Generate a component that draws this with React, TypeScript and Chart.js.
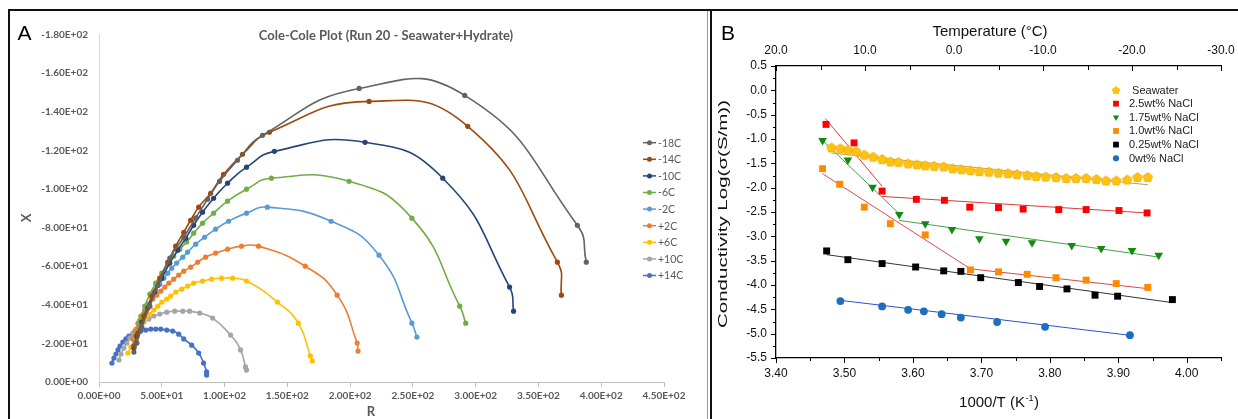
import React, { useEffect, useRef } from 'react';
import { Chart, registerables } from 'chart.js';

Chart.register(...registerables);

// ================= Panel A : Cole-Cole plot =================
const A_TITLE = 'Cole-Cole Plot (Run 20 - Seawater+Hydrate)';
const A_X_TITLE = 'R';
const A_Y_TITLE = 'X';
const COLE_SERIES = ['-18C', '-14C', '-10C', '-6C', '-2C', '+2C', '+6C', '+10C', '+14C'];
const COLE_COLORS = ['#636363', '#9E480E', '#264478', '#70AD47', '#5B9BD5', '#ED7D31', '#FFC000', '#A5A5A5', '#4472C4'];

const R_M18 = [27.8, 30.2, 34.1, 40.5, 47.0, 56.4, 67.5, 77.0, 86.5, 96.0, 110.3, 130.2, 207.2, 291.3, 381.0, 388.1];
const X_M18 = [-15.5, -20.2, -28.5, -39.3, -50.0, -64.2, -75.0, -85.0, -94.7, -104.0, -114.9, -127.8, -152.1, -148.5, -81.2, -62.1];

const R_M14 = [27.8, 31.0, 35.7, 42.1, 48.4, 54.8, 61.1, 67.5, 73.0, 79.4, 88.9, 99.2, 114.3, 135.7, 215.1, 293.7, 365.1, 368.3];
const X_M14 = [-18.6, -25.4, -34.2, -44.5, -53.8, -62.1, -70.4, -77.6, -83.8, -90.6, -97.8, -107.6, -118.0, -129.4, -145.4, -132.5, -62.1, -45.0];

const R_M10 = [27.8, 30.2, 34.1, 38.9, 44.4, 50.0, 56.4, 62.7, 69.1, 75.4, 82.5, 91.3, 102.4, 117.5, 139.7, 211.9, 273.8, 327.0, 330.2];
const X_M10 = [-17.6, -23.8, -31.1, -38.3, -46.6, -53.8, -61.6, -68.3, -74.5, -81.2, -88.0, -95.2, -103.0, -111.3, -119.5, -124.2, -105.6, -49.2, -36.7];

const R_M6 = [27.8, 29.4, 32.5, 36.5, 40.5, 45.2, 50.0, 54.8, 59.5, 64.3, 69.8, 75.4, 82.5, 91.3, 102.4, 117.5, 137.3, 199.2, 249.2, 287.3, 292.1];
const X_M6 = [-18.6, -24.3, -32.1, -39.3, -45.5, -51.2, -56.4, -61.1, -65.2, -68.8, -72.5, -77.1, -82.3, -87.5, -93.7, -99.9, -105.6, -104.0, -84.9, -39.3, -30.5];

const R_M2 = [28.6, 30.2, 32.5, 35.7, 38.9, 42.1, 45.2, 48.4, 51.6, 54.8, 57.9, 61.9, 66.7, 70.6, 77.0, 84.1, 92.9, 103.2, 117.5, 134.1, 184.9, 223.0, 249.2, 253.2];
const X_M2 = [-20.2, -24.8, -30.0, -35.2, -39.8, -44.0, -47.6, -50.7, -53.8, -56.4, -59.0, -61.6, -64.7, -67.3, -71.4, -75.0, -79.2, -83.3, -87.5, -90.6, -83.3, -65.7, -30.5, -23.3];

const R_P2 = [27.0, 28.6, 31.0, 33.3, 36.5, 39.7, 42.9, 46.0, 49.2, 52.4, 55.6, 59.5, 63.5, 67.5, 73.0, 78.6, 84.9, 92.9, 102.4, 113.5, 127.0, 164.3, 189.7, 205.6, 206.3];
const X_P2 = [-22.3, -26.4, -30.5, -34.2, -37.3, -40.4, -43.0, -45.0, -47.1, -49.2, -51.2, -53.3, -55.4, -57.4, -59.5, -62.1, -64.7, -66.8, -68.8, -70.4, -70.4, -60.0, -45.0, -20.2, -16.0];

const R_P6 = [23.0, 25.4, 27.8, 30.2, 32.5, 34.9, 37.3, 40.5, 43.7, 46.8, 50.0, 54.0, 57.1, 61.1, 65.9, 70.6, 75.4, 82.5, 89.7, 97.6, 106.4, 117.5, 142.1, 158.7, 168.3, 169.9];
const X_P6 = [-15.0, -18.1, -21.7, -25.4, -28.5, -31.1, -33.1, -35.2, -37.3, -39.3, -41.4, -43.0, -44.5, -46.6, -48.1, -49.7, -51.2, -52.3, -53.3, -53.8, -53.8, -52.3, -41.4, -30.5, -13.5, -10.9];

const R_P10 = [15.9, 17.5, 19.8, 22.2, 24.6, 27.0, 29.4, 32.5, 35.7, 39.7, 43.7, 48.4, 54.0, 60.3, 66.7, 72.2, 80.2, 90.5, 104.8, 112.7, 116.7, 117.5];
const X_P10 = [-11.4, -14.5, -17.6, -20.2, -22.8, -25.4, -27.4, -29.5, -31.1, -32.6, -34.2, -35.2, -36.2, -36.7, -36.7, -36.7, -35.7, -33.1, -24.3, -16.6, -7.8, -6.2];

const R_P14 = [10.3, 11.9, 13.5, 15.1, 16.7, 19.0, 21.4, 23.8, 27.0, 30.2, 33.3, 37.3, 41.3, 45.2, 49.2, 54.0, 58.7, 63.5, 67.5, 73.8, 79.4, 83.3, 85.7, 85.7];
const X_P14 = [-9.8, -12.4, -14.5, -16.6, -18.6, -20.7, -22.3, -23.8, -24.8, -25.9, -26.4, -26.9, -27.4, -27.4, -27.4, -26.9, -26.4, -24.8, -22.3, -19.1, -15.0, -9.8, -5.2, -3.6];

const COLE_R = [R_M18, R_M14, R_M10, R_M6, R_M2, R_P2, R_P6, R_P10, R_P14];
const COLE_X = [X_M18, X_M14, X_M10, X_M6, X_M2, X_P2, X_P6, X_P10, X_P14];

const A_R_MIN = 0, A_R_MAX = 450, A_R_STEP = 50;
const A_X_MIN = -180, A_X_MAX = 0, A_X_STEP = 20;

// ================= Panel B : Arrhenius plot =================
const B_X_TITLE_MAIN = '1000/T (K';
const B_X_TITLE_SUP = '-1';
const B_TOP_TITLE = 'Temperature (°C)';
const B_Y_TITLE = 'Conductivity Log(σ(S/m))';
const B_SERIES = ['Seawater', '2.5wt% NaCl', '1.75wt% NaCl', '1.0wt% NaCl', '0.25wt% NaCl', '0wt% NaCl'];
const B_COLORS = ['#FFC20E', '#FF0000', '#118A11', '#FF8A00', '#000000', '#1E6EBE'];
const B_STYLES = ['pentagon', 'rect', 'triangleDown', 'rect', 'rect', 'circle'];

const SW_X = [3.481, 3.494, 3.505, 3.517, 3.529, 3.542, 3.555, 3.567, 3.579, 3.593, 3.606, 3.618, 3.631, 3.645, 3.658, 3.671, 3.684, 3.697, 3.711, 3.725, 3.739, 3.752, 3.767, 3.780, 3.794, 3.809, 3.824, 3.838, 3.853, 3.868, 3.882, 3.897, 3.913, 3.928, 3.943];
const SW_Y = [-1.17, -1.19, -1.22, -1.25, -1.32, -1.36, -1.41, -1.46, -1.47, -1.50, -1.52, -1.54, -1.55, -1.56, -1.60, -1.62, -1.64, -1.66, -1.67, -1.69, -1.70, -1.72, -1.74, -1.76, -1.77, -1.78, -1.80, -1.80, -1.80, -1.82, -1.85, -1.85, -1.83, -1.78, -1.78];

const N25_X = [3.473, 3.514, 3.555, 3.605, 3.646, 3.683, 3.725, 3.761, 3.813, 3.853, 3.901, 3.942];
const N25_Y = [-0.70, -1.08, -2.07, -2.24, -2.26, -2.40, -2.41, -2.44, -2.45, -2.45, -2.47, -2.52];

const N175_X = [3.468, 3.505, 3.541, 3.580, 3.618, 3.657, 3.697, 3.736, 3.774, 3.832, 3.875, 3.920, 3.959];
const N175_Y = [-1.03, -1.43, -1.99, -2.55, -2.74, -2.86, -3.05, -3.10, -3.13, -3.19, -3.25, -3.29, -3.39];

const N10_X = [3.468, 3.493, 3.529, 3.567, 3.618, 3.684, 3.725, 3.767, 3.809, 3.853, 3.897, 3.943];
const N10_Y = [-1.61, -1.93, -2.40, -2.74, -2.97, -3.69, -3.73, -3.78, -3.85, -3.90, -3.97, -4.05];

const N025_X = [3.474, 3.505, 3.555, 3.604, 3.645, 3.670, 3.699, 3.754, 3.785, 3.825, 3.866, 3.899, 3.979];
const N025_Y = [-3.30, -3.48, -3.56, -3.63, -3.71, -3.72, -3.85, -3.95, -4.03, -4.08, -4.21, -4.23, -4.30];

const N0_X = [3.494, 3.555, 3.593, 3.616, 3.642, 3.670, 3.723, 3.793, 3.917];
const N0_Y = [-4.33, -4.44, -4.51, -4.54, -4.60, -4.67, -4.76, -4.86, -5.03];

const B_X = [SW_X, N25_X, N175_X, N10_X, N025_X, N0_X];
const B_Y = [SW_Y, N25_Y, N175_Y, N10_Y, N025_Y, N0_Y];

// fitted line segments (end points)
const FIT_X = [
  [3.481, 3.943],
  [3.472, 3.555], [3.555, 3.942],
  [3.468, 3.580], [3.580, 3.959],
  [3.468, 3.684], [3.684, 3.943],
  [3.474, 3.979],
  [3.494, 3.917],
];
const FIT_Y = [
  [-1.29, -1.94],
  [-0.58, -1.97], [-2.18, -2.52],
  [-1.03, -2.535], [-2.673, -3.426],
  [-1.713, -3.668], [-3.668, -4.075],
  [-3.377, -4.362],
  [-4.315, -5.034],
];
const FIT_COLORS = ['#BBA24C', '#D83A3A', '#D83A3A', '#49A049', '#49A049', '#E04848', '#E04848', '#333333', '#3050D0'];

const B_X_MIN = 3.4, B_X_MAX = 4.05, B_X_STEP = 0.05;
const B_T_MIN = -30, B_T_MAX = 20, B_T_STEP = 5;
const B_Y_MIN = -5.5, B_Y_MAX = 0.5, B_Y_STEP = 0.25;

// ---------------- helpers ----------------
const sci = (v: number) => {
  if (v === 0) return '0.00E+00';
  const e = Math.floor(Math.log10(Math.abs(v)) + 1e-9);
  const m = v / Math.pow(10, e);
  return `${m.toFixed(2)}E${e < 0 ? '-' : '+'}${String(Math.abs(e)).padStart(2, '0')}`;
};

function makePentagon(r: number, fill: string, stroke: string) {
  const size = Math.ceil(r * 2 + 2);
  const c = document.createElement('canvas');
  c.width = size;
  c.height = size;
  const ctx = c.getContext('2d')!;
  ctx.beginPath();
  for (let i = 0; i < 5; i++) {
    const a = -Math.PI / 2 + (i * 2 * Math.PI) / 5;
    const px = size / 2 + r * Math.cos(a);
    const py = size / 2 + 0.6 + r * Math.sin(a);
    if (i === 0) ctx.moveTo(px, py);
    else ctx.lineTo(px, py);
  }
  ctx.closePath();
  ctx.fillStyle = fill;
  ctx.fill();
  ctx.strokeStyle = stroke;
  ctx.lineWidth = 0.7;
  ctx.stroke();
  return c;
}

function drawMarker(ctx: CanvasRenderingContext2D, style: string, x: number, y: number, s: number, color: string) {
  ctx.fillStyle = color;
  ctx.beginPath();
  if (style === 'rect') {
    ctx.rect(x - s / 2, y - s / 2, s, s);
  } else if (style === 'circle') {
    ctx.arc(x, y, s / 2, 0, Math.PI * 2);
  } else if (style === 'triangleDown') {
    const r = s * 0.62;
    ctx.moveTo(x - r * 0.866, y - r * 0.5);
    ctx.lineTo(x + r * 0.866, y - r * 0.5);
    ctx.lineTo(x, y + r);
  } else {
    const r = s * 0.55;
    for (let i = 0; i < 5; i++) {
      const a = -Math.PI / 2 + (i * 2 * Math.PI) / 5;
      const px = x + r * Math.cos(a);
      const py = y + 0.5 + r * Math.sin(a);
      if (i === 0) ctx.moveTo(px, py);
      else ctx.lineTo(px, py);
    }
  }
  ctx.closePath();
  ctx.fill();
}

const A_FONT = 'Lato, "Open Sans", sans-serif';
const B_FONT = '"Liberation Sans", Arial, sans-serif';

export default function App() {
  const aRef = useRef<HTMLCanvasElement | null>(null);
  const bRef = useRef<HTMLCanvasElement | null>(null);

  useEffect(() => {
    if (!aRef.current || !bRef.current) return;

    // ---------- Chart A ----------
    const aTextPlugin = {
      id: 'aText',
      afterDraw(chart: any) {
        const ctx: CanvasRenderingContext2D = chart.ctx;
        ctx.save();
        ctx.fillStyle = '#595959';
        ctx.textAlign = 'center';
        ctx.textBaseline = 'middle';
        ctx.font = `bold 13px ${A_FONT}`;
        ctx.fillText(A_TITLE, 376, 25);
        ctx.font = `bold 13px ${A_FONT}`;
        ctx.fillText(A_X_TITLE, 361, 401);
        ctx.save();
        ctx.translate(16.5, 207);
        ctx.rotate(-Math.PI / 2);
        ctx.fillText(A_Y_TITLE, 0, 0);
        ctx.restore();
        ctx.font = `10.5px ${A_FONT}`;
        ctx.textAlign = 'left';
        COLE_SERIES.forEach((name, i) => {
          const y = 131.7 + i * 16.6;
          ctx.strokeStyle = COLE_COLORS[i];
          ctx.lineWidth = 1.5;
          ctx.beginPath();
          ctx.moveTo(633, y);
          ctx.lineTo(646, y);
          ctx.stroke();
          ctx.fillStyle = COLE_COLORS[i];
          ctx.beginPath();
          ctx.arc(639.5, y, 2.5, 0, Math.PI * 2);
          ctx.fill();
          ctx.fillStyle = '#595959';
          ctx.fillText(name, 648, y + 0.5);
        });
        ctx.restore();
      },
    };

    const aTickFont = { family: A_FONT, size: 10, weight: 'bold' as const };
    const aChart = new Chart(aRef.current, {
      type: 'scatter',
      data: {
        datasets: COLE_SERIES.map((name, i) => ({
          label: name,
          data: COLE_R[i].map((r, j) => ({ x: r, y: COLE_X[i][j] })),
          showLine: true,
          borderColor: COLE_COLORS[i],
          backgroundColor: COLE_COLORS[i],
          pointBackgroundColor: COLE_COLORS[i],
          pointBorderColor: COLE_COLORS[i],
          pointBorderWidth: 0,
          pointRadius: 2.6,
          borderWidth: 1.6,
          tension: 0.5,
        })),
      },
      options: {
        responsive: false,
        animation: false,
        devicePixelRatio: 1,
        layout: { padding: { left: 0, right: 43, top: 23.6, bottom: 0 } },
        plugins: { legend: { display: false }, tooltip: { enabled: false }, title: { display: false } },
        scales: {
          x: {
            type: 'linear',
            min: A_R_MIN,
            max: A_R_MAX,
            ticks: {
              stepSize: A_R_STEP,
              callback: (v: any) => sci(Number(v)),
              font: aTickFont,
              color: '#595959',
              padding: 3,
              maxRotation: 0,
              autoSkip: false,
            },
            grid: { display: true, drawOnChartArea: false, drawTicks: true, tickLength: 5, color: '#BFBFBF' },
            border: { display: true, color: '#BFBFBF', width: 1 },
            afterFit: (s: any) => {
              s.height = 37;
              s.paddingLeft = 0;
              s.paddingRight = 0;
            },
          },
          y: {
            type: 'linear',
            min: A_X_MIN,
            max: A_X_MAX,
            reverse: true,
            ticks: {
              stepSize: A_X_STEP,
              callback: (v: any) => sci(Number(v)),
              font: aTickFont,
              color: '#595959',
              padding: 11,
            },
            grid: { display: false, drawTicks: false },
            border: { display: true, color: '#D9D9D9', width: 1 },
            afterFit: (s: any) => {
              s.width = 89;
              s.paddingTop = 0;
              s.paddingBottom = 0;
            },
          },
        },
      } as any,
      plugins: [aTextPlugin],
    });

    // ---------- Chart B ----------
    const pent = makePentagon(5, B_COLORS[0], '#E8A800');
    const pointStyleOf = (st: string): any =>
      st === 'pentagon' ? pent : st === 'triangleDown' ? 'triangle' : st;
    const radiusOf = (st: string) => (st === 'rect' ? 4.9 : st === 'circle' ? 3.9 : st === 'triangleDown' ? 5 : 5);

    const markerSets = B_SERIES.map((name, i) => ({
      label: name,
      data: B_X[i].map((x, j) => ({ x, y: B_Y[i][j] })),
      showLine: false,
      pointStyle: pointStyleOf(B_STYLES[i]),
      rotation: B_STYLES[i] === 'triangleDown' ? 180 : 0,
      pointRadius: radiusOf(B_STYLES[i]),
      pointBackgroundColor: B_COLORS[i],
      pointBorderColor: B_COLORS[i],
      pointBorderWidth: 0,
      backgroundColor: B_COLORS[i],
      borderColor: B_COLORS[i],
    }));
    const fitSets = FIT_X.map((xs, k) => ({
      label: 'fit' + k,
      data: xs.map((x, j) => ({ x, y: FIT_Y[k][j] })),
      showLine: true,
      pointRadius: 0,
      borderWidth: 1,
      borderColor: FIT_COLORS[k],
      backgroundColor: FIT_COLORS[k],
      tension: 0,
    }));

    const bPlugin = {
      id: 'bDecor',
      afterDraw(chart: any) {
        const ctx: CanvasRenderingContext2D = chart.ctx;
        const { left, top, bottom } = chart.chartArea;
        const sx = chart.scales.x;
        const sx2 = chart.scales.x2;
        const sy = chart.scales.y;
        ctx.save();
        ctx.strokeStyle = '#000';
        ctx.lineWidth = 1;
        ctx.beginPath();
        sx.ticks.forEach((t: any) => {
          const p = Math.round(sx.getPixelForValue(t.value)) + 0.5;
          const len = t.label ? 5 : 3;
          ctx.moveTo(p, bottom);
          ctx.lineTo(p, bottom + len);
        });
        sx2.ticks.forEach((t: any) => {
          const p = Math.round(sx2.getPixelForValue(t.value)) + 0.5;
          const len = t.label ? 5 : 4;
          ctx.moveTo(p, top);
          ctx.lineTo(p, top + len);
        });
        sy.ticks.forEach((t: any) => {
          const p = Math.round(sy.getPixelForValue(t.value)) + 0.5;
          const len = t.label ? 5 : 3;
          ctx.moveTo(left - len, p);
          ctx.lineTo(left, p);
        });
        ctx.stroke();

        // titles
        ctx.fillStyle = '#111';
        ctx.textAlign = 'center';
        ctx.textBaseline = 'middle';
        ctx.font = `15px ${B_FONT}`;
        ctx.fillText(B_TOP_TITLE, 277, 21);

        // bottom title with superscript
        ctx.textAlign = 'left';
        ctx.textBaseline = 'alphabetic';
        ctx.font = `15px ${B_FONT}`;
        const w1 = ctx.measureText(B_X_TITLE_MAIN).width;
        const w3 = ctx.measureText(')').width;
        ctx.font = `9px ${B_FONT}`;
        const w2 = ctx.measureText(B_X_TITLE_SUP).width;
        const x0 = 285.5 - (w1 + w2 + w3) / 2;
        const by = 395.5;
        ctx.font = `15px ${B_FONT}`;
        ctx.fillText(B_X_TITLE_MAIN, x0, by);
        ctx.font = `9px ${B_FONT}`;
        ctx.fillText(B_X_TITLE_SUP, x0 + w1 + 0.5, by - 6);
        ctx.font = `15px ${B_FONT}`;
        ctx.fillText(')', x0 + w1 + w2 + 1, by);

        // y title (stretched along its length like the source)
        ctx.save();
        ctx.font = `13.5px ${B_FONT}`;
        ctx.textAlign = 'center';
        ctx.textBaseline = 'middle';
        const wy = ctx.measureText(B_Y_TITLE).width;
        ctx.translate(10.5, 203);
        ctx.rotate(-Math.PI / 2);
        ctx.scale(228 / wy, 1);
        ctx.fillText(B_Y_TITLE, 0, 0);
        ctx.restore();

        // legend
        ctx.font = `11px ${B_FONT}`;
        ctx.textAlign = 'left';
        ctx.textBaseline = 'middle';
        B_SERIES.forEach((name, i) => {
          const y = 79 + i * 13.65;
          drawMarker(ctx, B_STYLES[i], 403, y, B_STYLES[i] === 'pentagon' ? 8 : B_STYLES[i] === 'circle' ? 6.2 : 5.8, B_COLORS[i]);
          ctx.fillStyle = '#222';
          ctx.fillText((i === 0 ? ' ' : '') + name, 416, y + 0.5);
        });
        ctx.restore();
      },
    };

    const tickFont = { family: B_FONT, size: 12 };
    const bChart = new Chart(bRef.current, {
      type: 'scatter',
      data: { datasets: [...markerSets, ...fitSets] as any },
      options: {
        responsive: false,
        animation: false,
        devicePixelRatio: 1,
        layout: { padding: { left: 0, right: 17, top: 0, bottom: 0 } },
        plugins: { legend: { display: false }, tooltip: { enabled: false }, title: { display: false } },
        scales: {
          x: {
            type: 'linear',
            position: 'bottom',
            min: B_X_MIN,
            max: B_X_MAX,
            ticks: {
              stepSize: B_X_STEP,
              autoSkip: false,
              maxRotation: 0,
              font: tickFont,
              color: '#111',
              padding: 8,
              callback: (v: any) => (Math.round(Number(v) * 100) % 10 === 0 ? Number(v).toFixed(2) : ''),
            },
            grid: { display: false, drawTicks: false },
            border: { display: true, color: '#000', width: 1.3 },
            afterFit: (s: any) => {
              s.height = 61;
              s.paddingLeft = 0;
              s.paddingRight = 0;
            },
          },
          x2: {
            type: 'linear',
            position: 'top',
            display: true,
            min: B_T_MIN,
            max: B_T_MAX,
            reverse: true,
            ticks: {
              stepSize: B_T_STEP,
              autoSkip: false,
              maxRotation: 0,
              font: tickFont,
              color: '#111',
              padding: 8,
              callback: (v: any) => (Math.round(Number(v)) % 10 === 0 ? Number(v).toFixed(1) : ''),
            },
            grid: { display: false, drawTicks: false },
            border: { display: true, color: '#000', width: 1.3 },
            afterFit: (s: any) => {
              s.height = 55;
              s.paddingLeft = 0;
              s.paddingRight = 0;
            },
          },
          y: {
            type: 'linear',
            min: B_Y_MIN,
            max: B_Y_MAX,
            ticks: {
              stepSize: B_Y_STEP,
              autoSkip: false,
              font: tickFont,
              color: '#111',
              padding: 9,
              callback: (v: any) => (Math.round(Number(v) * 100) % 50 === 0 ? Number(v).toFixed(1) : ''),
            },
            grid: { display: false, drawTicks: false },
            border: { display: true, color: '#000', width: 1.3 },
            afterFit: (s: any) => {
              s.width = 63;
              s.paddingTop = 0;
              s.paddingBottom = 0;
            },
          },
        },
      } as any,
      plugins: [bPlugin],
    });

    return () => {
      aChart.destroy();
      bChart.destroy();
    };
  }, []);

  const line = (l: number, t: number, w: number, h: number, c: string) => (
    <div style={{ position: 'absolute', left: l, top: t, width: w, height: h, background: c }} />
  );

  return (
    <div style={{ position: 'fixed', left: 0, top: 0, width: 1238, height: 419, background: '#fff', overflow: 'hidden' }}>
      {line(8, 9, 1230, 2, '#111')}
      {line(8, 9, 2, 410, '#111')}
      {line(707, 11, 1, 408, '#9a9a9a')}
      {line(710, 9, 2, 410, '#111')}
      <canvas ref={aRef} width={697} height={408} style={{ position: 'absolute', left: 10, top: 11, width: 697, height: 408 }} />
      <canvas ref={bRef} width={525} height={408} style={{ position: 'absolute', left: 713, top: 11, width: 525, height: 408 }} />
      <div style={{ position: 'absolute', left: 17.5, top: 22, fontFamily: B_FONT, fontSize: 21, lineHeight: '21px', color: '#000' }}>A</div>
      <div style={{ position: 'absolute', left: 721, top: 22, fontFamily: B_FONT, fontSize: 21, lineHeight: '21px', color: '#000' }}>B</div>
    </div>
  );
}
